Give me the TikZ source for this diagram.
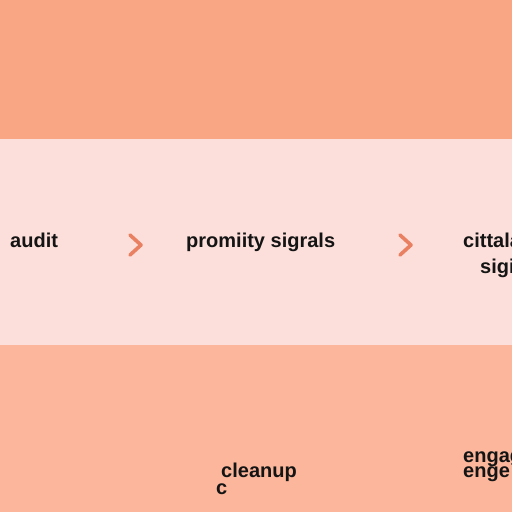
\documentclass[tikz,border=0pt]{standalone}
\usepackage{fontspec}
\setmainfont{Liberation Sans}
\definecolor{topband}{RGB}{249,166,132}
\definecolor{midband}{RGB}{252,223,218}
\definecolor{botband}{RGB}{251,182,156}
\definecolor{chev}{RGB}{233,128,98}
\tikzset{
  lbl/.style={font=\bfseries\fontsize{20}{22}\selectfont, text=black!92, inner sep=0pt, anchor=base west},
  chevron/.style={draw=chev, line width=3.6pt, line cap=round, line join=round}
}
\begin{document}
\begin{tikzpicture}[x=1pt,y=-1pt]
\useasboundingbox (0,0) rectangle (512,512);
\clip (0,0) rectangle (512,512);
\fill[topband] (0,0) rectangle (512,139);
\fill[midband] (0,139) rectangle (512,345);
\fill[botband] (0,345) rectangle (512,512);
% middle row
\node[lbl] (audit) at (10,247) {audit};
\node[lbl] (prox) at (186,247) {promiity sigrals};
\node[lbl] (cit) at (463,247) {cittala};
\node[lbl] (sig) at (480,273) {sigi};
\coordinate (c1a) at (130,235);
\coordinate (c1b) at (141,245);
\coordinate (c1c) at (130,255);
\coordinate (c2a) at (400,235);
\coordinate (c2b) at (411,245);
\coordinate (c2c) at (400,255);
\draw[chevron] (c1a) -- (c1b) -- (c1c);
\draw[chevron] (c2a) -- (c2b) -- (c2c);
% bottom row
\node[lbl] (clean) at (221,477) {cleanup};
\node[lbl] (cc) at (216,494) {c};
\node[lbl] (eng1) at (463,462) {engag};
\node[lbl] (eng2) at (463,477) {enge};
\end{tikzpicture}
\end{document}
